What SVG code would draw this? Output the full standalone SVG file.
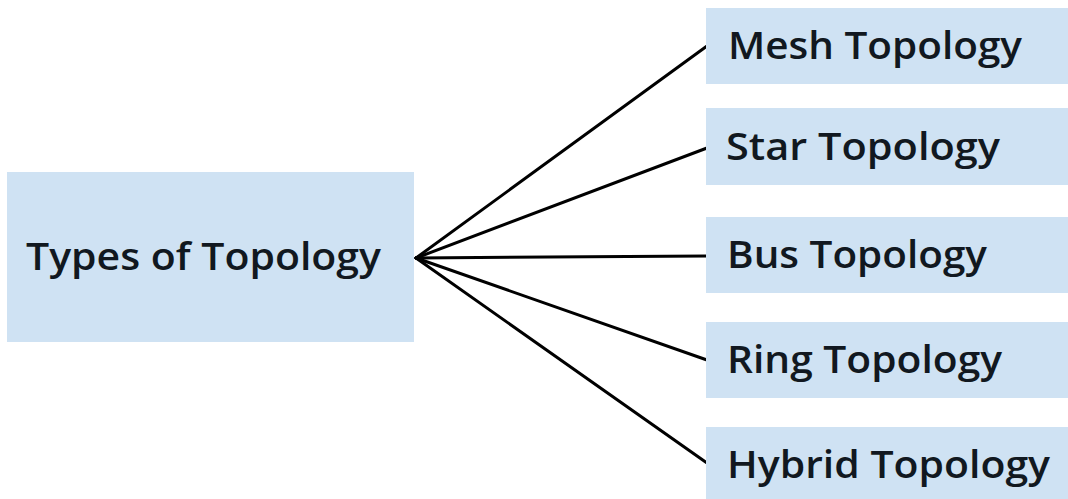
<svg xmlns="http://www.w3.org/2000/svg" width="1068" height="499" viewBox="0 0 1068 499">
<style>
.box{fill:#cfe2f3;}
.lbl{font-family:"Open Sans","Liberation Sans",sans-serif;font-weight:600;font-size:37px;fill:#111820;}
.con{stroke:#000;stroke-width:3;fill:none;stroke-linecap:round;}
</style>
<rect width="1068" height="499" fill="#ffffff"/>
<g id="connectors">
<line class="con" x1="416" y1="258" x2="707" y2="46"/>
<line class="con" x1="416" y1="258" x2="707" y2="148"/>
<line class="con" x1="416" y1="258" x2="707" y2="256"/>
<line class="con" x1="416" y1="258" x2="707" y2="360"/>
<line class="con" x1="416" y1="258" x2="707" y2="463"/>
</g>
<g id="root">
<rect class="box" x="7" y="172" width="407" height="170"/>
<text class="lbl" x="26" y="270" textLength="355" lengthAdjust="spacingAndGlyphs">Types of Topology</text>
</g>
<g id="mesh">
<rect class="box" x="706" y="8" width="362" height="76"/>
<text class="lbl" x="728" y="59" textLength="294" lengthAdjust="spacingAndGlyphs">Mesh Topology</text>
</g>
<g id="star">
<rect class="box" x="706" y="108" width="362" height="77"/>
<text class="lbl" x="726" y="160" textLength="274" lengthAdjust="spacingAndGlyphs">Star Topology</text>
</g>
<g id="bus">
<rect class="box" x="706" y="217" width="362" height="76"/>
<text class="lbl" x="727" y="268" textLength="260" lengthAdjust="spacingAndGlyphs">Bus Topology</text>
</g>
<g id="ring">
<rect class="box" x="706" y="322" width="362" height="76"/>
<text class="lbl" x="727" y="373" textLength="275" lengthAdjust="spacingAndGlyphs">Ring Topology</text>
</g>
<g id="hybrid">
<rect class="box" x="706" y="427" width="362" height="72"/>
<text class="lbl" x="727" y="478" textLength="323" lengthAdjust="spacingAndGlyphs">Hybrid Topology</text>
</g>
</svg>
